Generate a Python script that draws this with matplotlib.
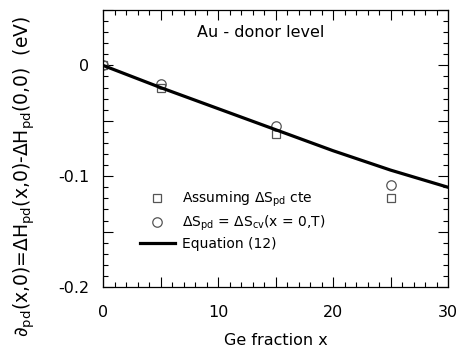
import matplotlib
matplotlib.use('Agg')
import matplotlib.pyplot as plt
from matplotlib.ticker import MultipleLocator

plt.rcParams['font.family'] = ['DejaVu Sans']
plt.rcParams['mathtext.fontset'] = 'dejavusans'

# datos
x_pts = [0, 5, 15, 25]
sq_vals = [0.0, -0.020, -0.062, -0.120]
ci_vals = [0.0, -0.017, -0.055, -0.108]
x_eq = [0, 5, 10, 15, 20, 25, 30]
eq_vals = [0.0, -0.020, -0.039, -0.058, -0.077, -0.0945, -0.110]

fig = plt.figure(figsize=(4.58, 3.54), dpi=100)
ax = fig.add_axes([0.2249, 0.1893, 0.7533, 0.7825])

ax.plot(x_pts, sq_vals, 's', mfc='none', mec='#555555', ms=6.3, mew=0.9,
        label=r'Assuming $\Delta$S$_{\mathrm{pd}}$ cte')
ax.plot(x_pts, ci_vals, 'o', mfc='none', mec='#555555', ms=6.8, mew=0.9,
        label=r'$\Delta$S$_{\mathrm{pd}}$ = $\Delta$S$_{\mathrm{cv}}$(x = 0,T)')
ax.plot(x_eq, eq_vals, '-', color='black', lw=2.3, label='Equation (12)')

ax.set_xlim(0, 30)
ax.set_ylim(-0.2, 0.05)
ax.set_xticks([0, 5, 10, 15, 20, 25, 30])
ax.set_xticklabels(['0', '', '10', '', '20', '', '30'])
ax.set_yticks([-0.2, -0.15, -0.1, -0.05, 0, 0.05])
ax.set_yticklabels(['-0.2', '', '-0.1', '', '0', ''])
ax.xaxis.set_minor_locator(MultipleLocator(1))
ax.yaxis.set_minor_locator(MultipleLocator(0.01))
ax.tick_params(which='both', direction='in', top=True, right=True, width=0.8)
ax.tick_params(which='major', length=7, labelsize=11.5)
ax.tick_params(axis='x', which='major', pad=13)
ax.tick_params(axis='y', which='major', pad=10)
ax.tick_params(which='minor', length=3.5)
for s in ax.spines.values():
    s.set_linewidth(0.9)

ax.set_xlabel('Ge fraction x', fontsize=11.5, labelpad=9)
ax.set_ylabel(r'$\partial_{\mathrm{pd}}$(x,0)=$\Delta$H$_{\mathrm{pd}}$(x,0)-'
              r'$\Delta$H$_{\mathrm{pd}}$(0,0)  (eV)', fontsize=13.5)
ax.yaxis.set_label_coords(-0.19, 0.40)

ax.text(0.458, 0.917, 'Au - donor level', transform=ax.transAxes, ha='center',
        va='center', fontsize=11.5)

ax.legend(loc='upper left', bbox_to_anchor=(0.107, 0.35), frameon=False,
          fontsize=10, handlelength=2.5, handletextpad=0.5, labelspacing=0.3,
          borderpad=0, borderaxespad=0)

fig.savefig('out.png', dpi=100)
